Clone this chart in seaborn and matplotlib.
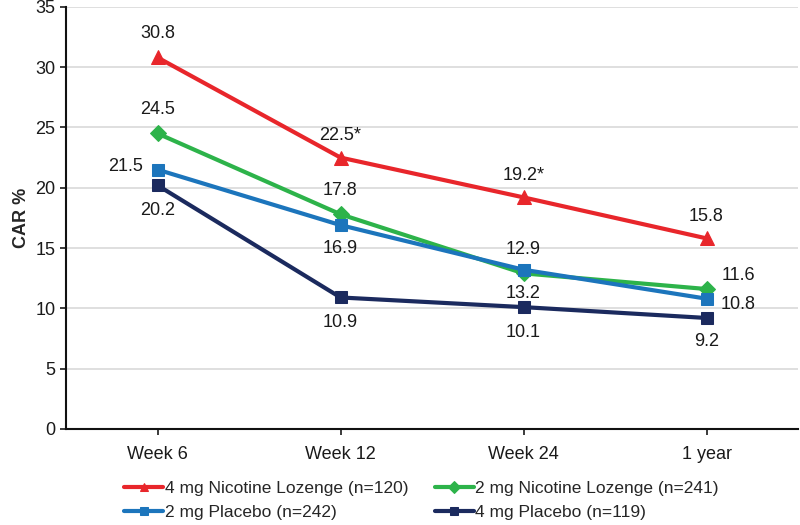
import pandas as pd
import numpy as np
import matplotlib.pyplot as plt
import seaborn as sns

# Data
timepoints = ['Week 6', 'Week 12', 'Week 24', '1 year']
series_names = ['4 mg Nicotine Lozenge (n=120)', '2 mg Nicotine Lozenge (n=241)',
                '2 mg Placebo (n=242)', '4 mg Placebo (n=119)']
lozenge_4mg = [30.8, 22.5, 19.2, 15.8]
lozenge_2mg = [24.5, 17.8, 12.9, 11.6]
placebo_2mg = [21.5, 16.9, 13.2, 10.8]
placebo_4mg = [20.2, 10.9, 10.1, 9.2]
label_text = {
    series_names[0]: ['30.8', '22.5*', '19.2*', '15.8'],
    series_names[1]: ['24.5', '17.8', '12.9', '11.6'],
    series_names[2]: ['21.5', '16.9', '13.2', '10.8'],
    series_names[3]: ['20.2', '10.9', '10.1', '9.2'],
}

values = [lozenge_4mg, lozenge_2mg, placebo_2mg, placebo_4mg]
df = pd.DataFrame({
    'time': timepoints * 4,
    'group': np.repeat(series_names, 4),
    'car': np.concatenate(values),
})

colors = ['#E8262B', '#2DB34A', '#1C75BC', '#1B2A5E']
markers = ['^', 'D', 's', 's']
msizes = [10, 8, 8, 8]

sns.set_style('white')
plt.rcParams['font.family'] = ['Liberation Sans', 'DejaVu Sans']

fig = plt.figure(figsize=(8, 5.25), dpi=100)
ax = fig.add_axes([0.0825, 0.183, 0.915, 0.804])

for name, col, mk, ms in zip(series_names, colors, markers, msizes):
    sub = df[df['group'] == name]
    sns.lineplot(data=sub, x='time', y='car', ax=ax, color=col, marker=mk,
                 markersize=ms, markeredgecolor=col, linewidth=3, sort=False,
                 label=name)

# label offsets in points (dx, dy) per series and timepoint
offsets = {
    series_names[0]: [(0, 17), (0, 16), (0, 16), (0, 16)],
    series_names[1]: [(0, 17), (0, 17), (0, 17), (23, 10)],
    series_names[2]: [(-23, 2), (0, -17), (0, -17), (23, -4)],
    series_names[3]: [(0, -18), (0, -18), (0, -18), (0, -17)],
}
for name, vals in zip(series_names, values):
    for i, v in enumerate(vals):
        dx, dy = offsets[name][i]
        ax.annotate(label_text[name][i], (i, v), xytext=(dx, dy),
                    textcoords='offset points', ha='center', va='center',
                    fontsize=13, color='#1a1a1a')

ax.set_xlim(-0.5, 3.5)
ax.set_ylim(0, 35)
ax.set_yticks(range(0, 36, 5))
ax.set_xticks(range(4))
ax.set_xticklabels(timepoints)
ax.tick_params(axis='both', labelsize=13, colors='#1a1a1a', length=4,
               width=1.2, direction='out', left=True, bottom=True)
ax.tick_params(axis='x', pad=8)
ax.yaxis.grid(True, color='#D9D9D9', linewidth=1.2)
ax.set_axisbelow(True)
for s in ['top', 'right']:
    ax.spines[s].set_visible(False)
for s in ['left', 'bottom']:
    ax.spines[s].set_color('#111111')
    ax.spines[s].set_linewidth(1.5)
ax.set_xlabel('')
ax.set_ylabel('CAR %', fontsize=13, fontweight='bold', labelpad=4)

ax.legend_.remove()
handles, labels = ax.get_legend_handles_labels()
order = [0, 2, 1, 3]
leg = fig.legend([handles[i] for i in order], [labels[i] for i in order],
                 loc='center', bbox_to_anchor=(0.527, 0.047),
                 ncol=2, frameon=False, fontsize=12.5, handlelength=2.25,
                 handletextpad=0.1, columnspacing=1.5, labelspacing=0.5)
for h in leg.legend_handles:
    h.set_markersize(6)

fig.savefig('out.png', dpi=100)
